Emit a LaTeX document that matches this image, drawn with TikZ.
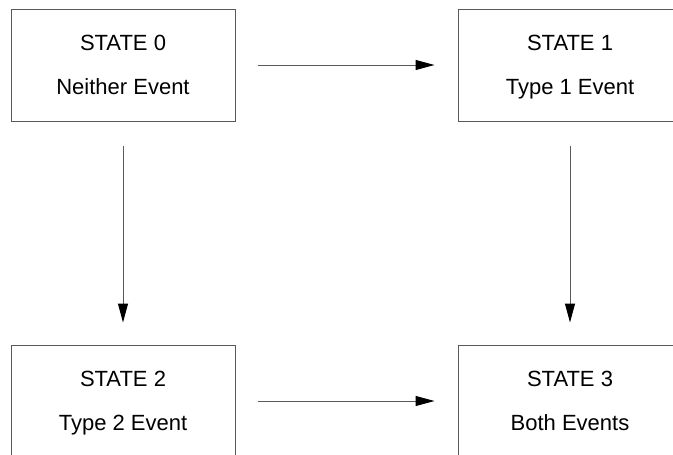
\documentclass[tikz,border=0pt]{standalone}
\usepackage{fontspec}
\setmainfont{Liberation Sans}
\usetikzlibrary{arrows.meta}
\definecolor{edgegray}{RGB}{90,90,90}
\tikzset{
  statebox/.style={draw=edgegray, line width=1pt, minimum width=224pt, minimum height=112pt, inner sep=0pt},
  statetext/.style={anchor=base, inner sep=0pt, font=\fontsize{22}{26}\selectfont},
  flow/.style={draw=edgegray, line width=1pt,
    -{Triangle[length=19pt,width=10pt,color=black,fill=black]}},
}
\begin{document}
\begin{tikzpicture}[x=1pt,y=-1pt]
  \useasboundingbox (0,0) rectangle (673,455);
  \clip (0,0) rectangle (673,455);
  % the four states
  \node[statebox] (s0) at (123,65) {};
  \node[statebox] (s1) at (570,65) {};
  \node[statebox] (s2) at (123,401) {};
  \node[statebox] (s3) at (570,401) {};
  % titles and descriptions
  \node[statetext] (s0a) at ([yshift=15pt]s0.center) {STATE 0};
  \node[statetext] (s0b) at ([yshift=-29pt]s0.center) {Neither Event};
  \node[statetext] (s1a) at ([yshift=15pt]s1.center) {STATE 1};
  \node[statetext] (s1b) at ([yshift=-29pt]s1.center) {Type 1 Event};
  \node[statetext] (s2a) at ([yshift=15pt]s2.center) {STATE 2};
  \node[statetext] (s2b) at ([yshift=-29pt]s2.center) {Type 2 Event};
  \node[statetext] (s3a) at ([yshift=15pt]s3.center) {STATE 3};
  \node[statetext] (s3b) at ([yshift=-29pt]s3.center) {Both Events};
  % transitions
  \draw[flow, shorten <=22pt, shorten >=23pt] (s0.east) -- (s1.west);
  \draw[flow, shorten <=22pt, shorten >=23pt] (s2.east) -- (s3.west);
  \draw[flow, shorten <=24pt, shorten >=22pt] (s0.south) -- (s2.north);
  \draw[flow, shorten <=24pt, shorten >=22pt] (s1.south) -- (s3.north);
\end{tikzpicture}
\end{document}
